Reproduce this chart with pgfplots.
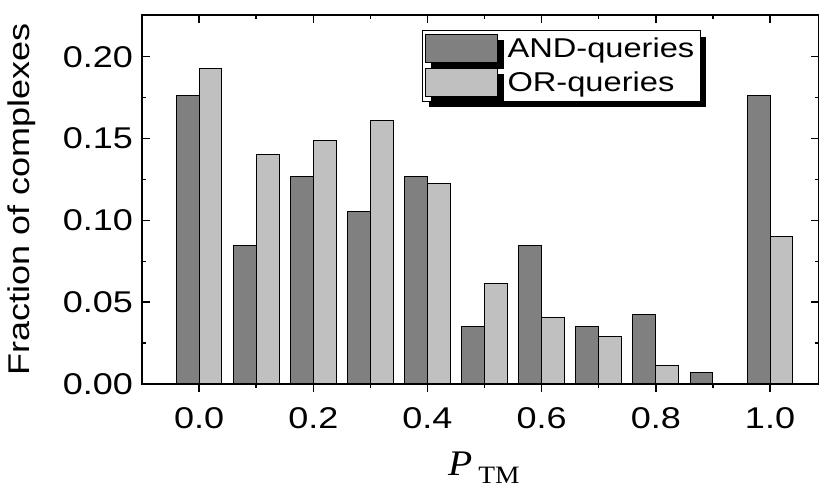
\documentclass[border=0pt]{standalone}
\usepackage{fontspec}
\setmainfont{Liberation Sans}[FakeStretch=1.2]
\newfontfamily\seriffont{Liberation Serif}[FakeStretch=1.1]
\usepackage{pgfplots}
\usepackage{pgfplotstable}
\pgfplotsset{compat=1.18}
\usetikzlibrary{shadows}

\definecolor{andgray}{RGB}{128,128,128}
\definecolor{orgray}{RGB}{192,192,192}

\pgfplotstableread{
x    and     or
0.0  0.1761  0.1930
0.1  0.0845  0.1400
0.2  0.1268  0.1490
0.3  0.1056  0.1608
0.4  0.1268  0.1226
0.5  0.0352  0.0612
0.6  0.0845  0.0407
0.7  0.0352  0.0290
0.8  0.0423  0.0114
1.0  0.1761  0.0904
}\datatable
\pgfplotstableread{
x    and
0.9  0.0070
}\lasttable

\newcommand{\lblfont}{\fontsize{15}{17}\selectfont}
\newcommand{\legfont}{\fontsize{13.6}{15}\selectfont}

\begin{document}
\begin{tikzpicture}
\pgfplotsset{
  commonaxis/.style={
    scale only axis,
    width=338.5pt, height=184.5pt,
    xmin=-0.1, xmax=1.0858,
    ymin=0, ymax=0.2255,
    major tick length=4pt, minor tick length=2pt,
    every tick/.style={black, line width=0.75pt},
    axis line style={line width=0.9pt},
  }
}
\begin{axis}[
  commonaxis,
  ybar, bar width=0.04,
  tick align=inside,
  xtick={0,0.2,0.4,0.6,0.8,1.0},
  minor x tick num=1,
  xtick pos=right,
  xticklabel pos=left,
  ytick={0,0.05,0.10,0.15,0.20},
  minor y tick num=1,
  ytick pos=both,
  yticklabel pos=left,
  /pgf/number format/assume math mode=true,
  xticklabel style={/pgf/number format/.cd, fixed, fixed zerofill, precision=1, /tikz/.cd, font=\lblfont, yshift=-8pt},
  yticklabel style={/pgf/number format/.cd, fixed, fixed zerofill, precision=2, /tikz/.cd, font=\lblfont, xshift=-1pt},
  scaled y ticks=false,
  ylabel={Fraction of complexes},
  ylabel style={at={(axis description cs:-0.178,0.5)}, anchor=center, font=\lblfont},
  xlabel={{\fontsize{18}{20}\selectfont\seriffont\itshape P}\kern3pt{\fontsize{12.5}{14}\selectfont\seriffont\raisebox{-4pt}{TM}}},
  xlabel style={at={(axis description cs:0.505,-0.228)}, anchor=center},
  legend style={at={(axis description cs:0.4136,0.959)}, anchor=north west,
    draw=black, line width=0.5pt, fill=white, font=\legfont,
    drop shadow={shadow xshift=3pt, shadow yshift=-3pt, fill=black, opacity=1},
    inner xsep=1pt, inner ysep=1.5pt, row sep=1.5pt,
    /tikz/every odd column/.append style={column sep=3pt}},
  legend cell align=left,
  legend image code/.code={\draw[#1, line width=0.5pt] (0pt,-7pt) rectangle (36pt,7pt);},
]
\addplot[fill=andgray, draw=black, line width=0.5pt, bar shift=-0.02] table[x=x, y=and] {\datatable};
\addplot[fill=orgray, draw=black, line width=0.5pt, bar shift=0.02] table[x=x, y=or] {\datatable};
\addplot[fill=andgray, draw=black, line width=0.5pt, bar shift=-0.02, forget plot] table[x=x, y=and] {\lasttable};
\legend{AND-queries, OR-queries}
\coordinate (bl) at (rel axis cs:0,0);
\coordinate (tr) at (rel axis cs:1,1);
\end{axis}
% outward ticks on the lower x axis
\begin{axis}[
  commonaxis,
  axis x line*=bottom, axis y line=none,
  tick align=outside,
  xtick={0,0.2,0.4,0.6,0.8,1.0},
  minor x tick num=1,
  xticklabels={},
]
\end{axis}
\pgfresetboundingbox
\path ([xshift=-71pt,yshift=-53.5pt]bl) rectangle ([yshift=7.5pt]tr);
\end{tikzpicture}
\end{document}
